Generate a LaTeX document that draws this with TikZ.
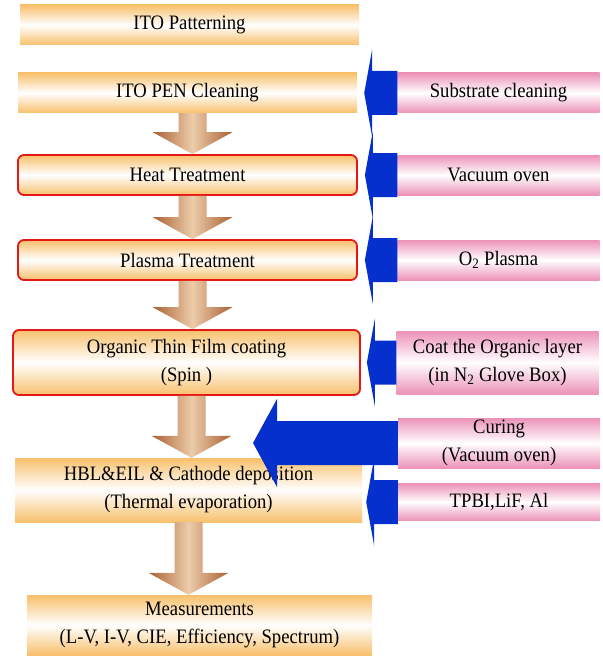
\documentclass[tikz,border=0pt]{standalone}
\usepackage{fontspec}
\setmainfont{Liberation Serif}[FakeStretch=0.91]
\usetikzlibrary{positioning,calc}

\definecolor{procorange}{RGB}{248,192,108}
\definecolor{procpink}{RGB}{236,146,184}
\definecolor{stepred}{RGB}{228,24,20}
\definecolor{feedblue}{RGB}{6,48,206}
\definecolor{arrowbrown}{RGB}{170,96,50}
\definecolor{arrowtan}{RGB}{236,204,170}

% brown arrow from one step down to the next
\newcommand{\godown}[3]{%
  \shade[flowarrow] let \p1=(#1.south), \p2=(#2.north) in
    (\x1+#3pt-14pt,\y1) -- (\x1+#3pt+14pt,\y1) -- (\x1+#3pt+14pt,\y2+22pt)
    -- (\x1+#3pt+40pt,\y2+22pt) -- (\x1+#3pt,\y2) -- (\x1+#3pt-40pt,\y2+22pt)
    -- (\x1+#3pt-14pt,\y2+22pt) -- cycle;}

% blue arrow from a tool box towards the process line
\newcommand{\feedin}[4]{%
  \fill[feedblue] let \p1=(#1.west), \p2=(#2) in
    (\x1,\y1+22pt) -- (\x2+#3pt+#4pt,\y1+22pt) -- (\x2+#3pt+#4pt,\y1+44pt)
    -- (\x2+#3pt,\y1) -- (\x2+#3pt+#4pt,\y1-44pt) -- (\x2+#3pt+#4pt,\y1-22pt)
    -- (\x1,\y1-22pt) -- cycle;}

\begin{document}
\begin{tikzpicture}[x=1pt,y=1pt,on grid,
    font=\fontsize{20.5}{28}\selectfont,
    plainstep/.style={top color=procorange,bottom color=procorange,
      middle color=white,minimum width=339pt,minimum height=40pt,
      align=center,inner sep=2pt},
    keystep/.style={plainstep,draw=stepred,line width=1.8pt,rounded corners=6pt},
    toolstep/.style={top color=procpink,bottom color=procpink,
      middle color=white,minimum width=202pt,minimum height=40pt,
      align=center,inner sep=2pt},
    flowarrow/.style={left color=arrowbrown,right color=arrowbrown,
      middle color=arrowtan}]

   \useasboundingbox (0,0) rectangle (602,-658);

   % process line
   \node[plainstep] (pattern) at (189.5,-25) {ITO Patterning};
   \node[plainstep] (clean) at (187.5,-93) {ITO PEN Cleaning};
   \node[keystep] (heat) at (187.5,-175) {Heat Treatment};
   \node[keystep] (plasma) at (187.5,-260) {Plasma Treatment};
   \node[keystep,minimum width=347pt,minimum height=65pt] (organic)
      at (186.5,-362.5) {Organic Thin Film coating\\(Spin )};
   \node[plainstep,minimum width=347pt,minimum height=64pt] (cathode)
      at (188.5,-490) {HBL\&EIL \& Cathode deposition\\(Thermal evaporation)};
   \node[plainstep,minimum width=345pt,minimum height=60pt] (measure)
      at (199.5,-625) {Measurements\\(L-V, I-V, CIE, Efficiency, Spectrum)};

   % tools
   \node[toolstep] (substrate) [right=311pt of clean] {Substrate cleaning};
   \node[toolstep] (oven) [right=311pt of heat] {Vacuum oven};
   \node[toolstep] (oxygen) [right=311pt of plasma] {O\textsubscript{2} Plasma};
   \node[toolstep,minimum height=63pt] (coat) [right=311pt of organic]
      {Coat the Organic layer\\(in N\textsubscript{2} Glove Box)};
   \node[toolstep,minimum height=50pt] (curing) at (499,-443)
      {Curing\\(Vacuum oven)};
   \node[toolstep,minimum height=37pt] (tpbi) at (499,-502) {TPBI,LiF, Al};

   \coordinate (curetip) at (253,-442);

   % flow
   \godown{clean}{heat}{5}
   \godown{heat}{plasma}{5}
   \godown{plasma}{organic}{5}
   \godown{organic}{cathode}{5}
   \godown{cathode}{measure}{0}

   % inputs
   \feedin{substrate}{clean.east}{7}{8}
   \feedin{oven}{heat.east}{7}{8}
   \feedin{oxygen}{plasma.east}{7}{8}
   \feedin{coat}{organic.east}{6}{8}
   \feedin{curing}{curetip}{0}{24}
   \feedin{tpbi}{cathode.east}{4}{8}

\end{tikzpicture}
\end{document}
